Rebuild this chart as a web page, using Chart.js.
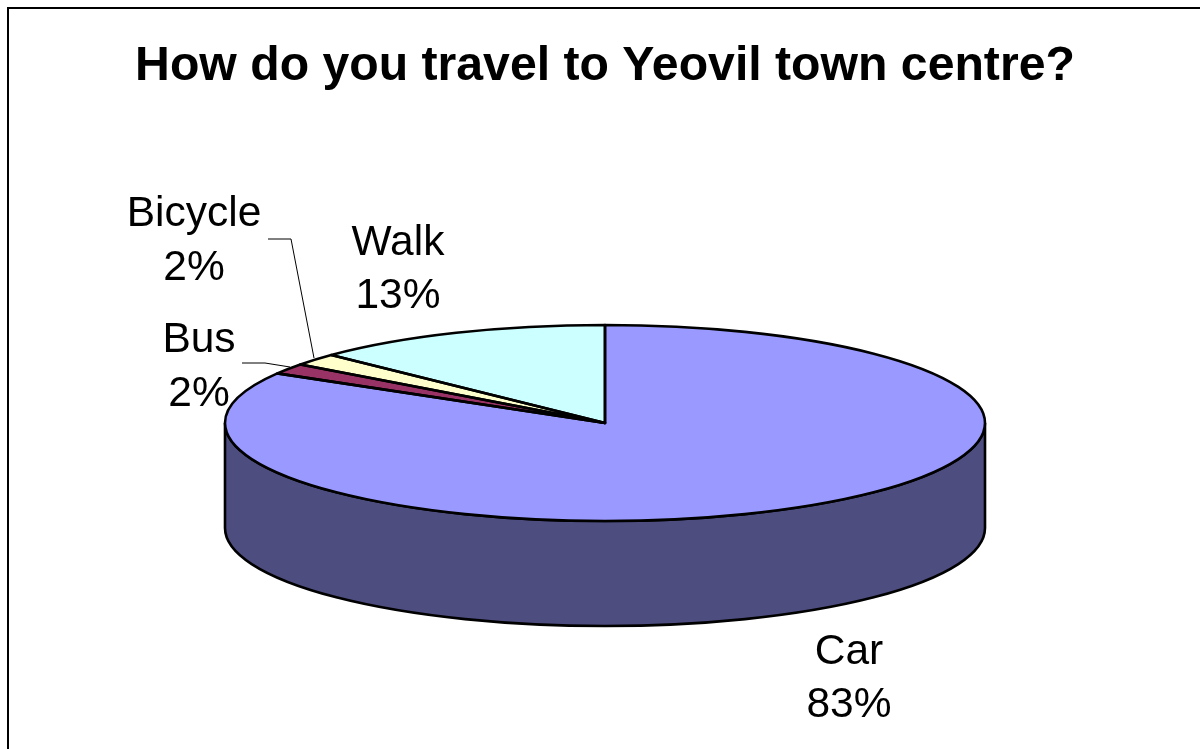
<!DOCTYPE html>
<html>
<head>
<meta charset="utf-8">
<style>
html,body{margin:0;padding:0;background:#fff;overflow:hidden}
canvas{display:block}
</style>
<script src="https://cdn.jsdelivr.net/npm/chart.js@4"></script>
</head>
<body>
<canvas id="c" width="1200" height="749"></canvas>
<script>
const categories = ['Car', 'Bus', 'Bicycle', 'Walk'];
const shares = [83.45, 1.75, 2.0, 12.8];
const faceColours = ['#9999FF', '#993366', '#FFFFCC', '#CCFFFF'];
const wallColours = ['#4D4D80', '#4D1A33', '#808066', '#668080'];
const titleText = 'How do you travel to Yeovil town centre?';

const FONT = '"Liberation Sans", Arial, sans-serif';
const pieGeom = {cx: 605, cy: 423, rx: 380, ry: 98, depth: 105};
const labelPos = [
  {x: 849, y: [652, 705]},
  {x: 199, y: [340, 394]},
  {x: 194, y: [214, 268]},
  {x: 398, y: [243, 296]}
];
const leaderLines = [
  null,
  [[242, 363], [265, 363], [290, 367]],
  [[268, 239], [291, 239], [314, 358]],
  null
];

function wallPath(ctx, a0, a1) {
  const g = pieGeom;
  ctx.beginPath();
  ctx.ellipse(g.cx, g.cy, g.rx, g.ry, 0, a0, a1, false);
  ctx.ellipse(g.cx, g.cy + g.depth, g.rx, g.ry, 0, a1, a0, true);
  ctx.closePath();
}

const pie3d = {
  id: 'pie3d',
  beforeDraw(chart) {
    const ctx = chart.ctx;
    ctx.save();
    ctx.strokeStyle = '#000';
    ctx.lineWidth = 2;
    ctx.beginPath();
    ctx.moveTo(8, 749);
    ctx.lineTo(8, 8);
    ctx.lineTo(1200, 8);
    ctx.stroke();
    ctx.restore();
  },
  beforeDatasetsDraw(chart) {
    const ctx = chart.ctx, g = pieGeom;
    const arcs = chart.getDatasetMeta(0).data;
    ctx.save();
    ctx.lineWidth = 2.6;
    ctx.strokeStyle = '#000';
    arcs.forEach((arc, i) => {
      const a0 = Math.max(arc.startAngle, 0), a1 = Math.min(arc.endAngle, Math.PI);
      if (a1 <= a0) return;
      wallPath(ctx, a0, a1);
      ctx.fillStyle = wallColours[i];
      ctx.fill();
      ctx.stroke();
    });
    ctx.restore();
    const R = arcs[0].outerRadius;
    ctx.save();
    ctx.translate(g.cx, g.cy);
    ctx.scale(g.rx / R, g.ry / R);
    ctx.translate(-arcs[0].x, -arcs[0].y);
  },
  afterDatasetsDraw(chart) {
    const ctx = chart.ctx, g = pieGeom;
    ctx.restore();
    const arcs = chart.getDatasetMeta(0).data;
    ctx.save();
    ctx.strokeStyle = '#000';
    ctx.lineWidth = 2.6;
    ctx.lineJoin = 'round';
    arcs.forEach(arc => {
      ctx.beginPath();
      ctx.moveTo(g.cx, g.cy);
      ctx.ellipse(g.cx, g.cy, g.rx, g.ry, 0, arc.startAngle, arc.endAngle, false);
      ctx.closePath();
      ctx.stroke();
    });
    ctx.lineWidth = 1;
    leaderLines.forEach(pts => {
      if (!pts) return;
      ctx.beginPath();
      pts.forEach((p, k) => k ? ctx.lineTo(p[0], p[1]) : ctx.moveTo(p[0], p[1]));
      ctx.stroke();
    });
    ctx.fillStyle = '#000';
    ctx.font = '42.5px ' + FONT;
    ctx.textAlign = 'center';
    ctx.textBaseline = 'middle';
    categories.forEach((name, i) => {
      ctx.fillText(name, labelPos[i].x, labelPos[i].y[0]);
      ctx.fillText(Math.round(shares[i]) + '%', labelPos[i].x, labelPos[i].y[1]);
    });
    ctx.restore();
  }
};

new Chart(document.getElementById('c'), {
  type: 'pie',
  data: {
    labels: categories,
    datasets: [{
      data: shares,
      backgroundColor: faceColours,
      borderWidth: 0,
      clip: false
    }]
  },
  options: {
    responsive: false,
    animation: false,
    layout: {padding: {left: 10, top: 0, right: 0, bottom: 0}},
    plugins: {
      legend: {display: false},
      tooltip: {enabled: false},
      title: {
        display: true,
        text: titleText,
        color: '#000',
        font: {family: FONT, size: 48.2, weight: 'bold'},
        padding: {top: 38, bottom: 20}
      }
    }
  },
  plugins: [pie3d]
});
</script>
</body>
</html>
